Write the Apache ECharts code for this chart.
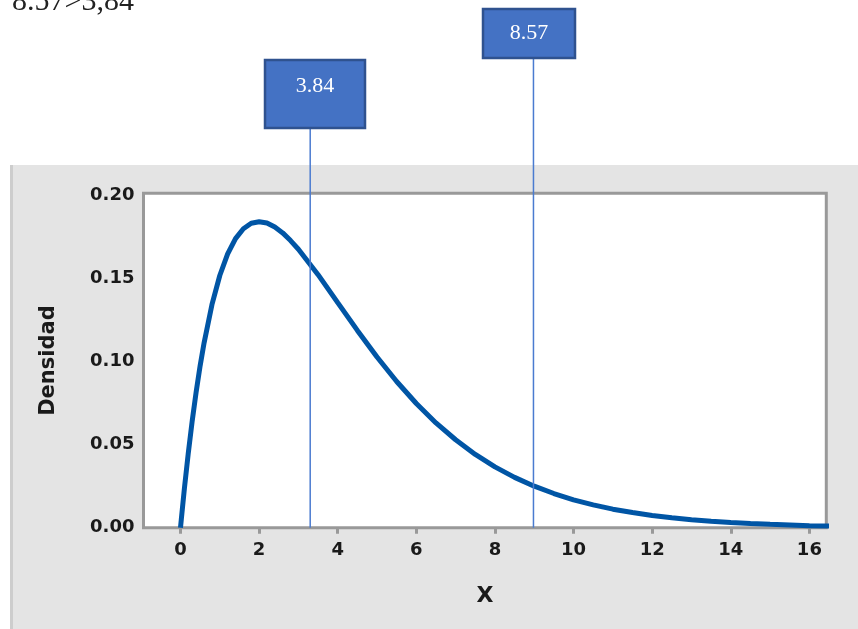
<!DOCTYPE html>
<html>
<head>
<meta charset="utf-8">
<script src="https://cdn.jsdelivr.net/npm/echarts@6/dist/echarts.min.js"></script>
<style>
html,body{margin:0;padding:0;background:#fff;}
#main{width:858px;height:629px;}
</style>
</head>
<body>
<div id="main"></div>
<script>
// Data
var xValues = [0, 0.02, 0.1, 0.2, 0.3, 0.4, 0.5, 0.6, 0.8, 1.0, 1.2, 1.4, 1.6, 1.8, 2.0, 2.2, 2.4, 2.6, 2.8, 3.0, 3.5, 4.0, 4.5, 5.0, 5.5, 6.0, 6.5, 7.0, 7.5, 8.0, 8.5, 9.0, 9.5, 10, 10.5, 11, 11.5, 12, 12.5, 13, 13.5, 14, 14.5, 15, 15.5, 16, 16.5];
var densityValues = [0, 0.0049, 0.0238, 0.0452, 0.0646, 0.0819, 0.0974, 0.1111, 0.1341, 0.1516, 0.1646, 0.1738, 0.1797, 0.1830, 0.1839, 0.1831, 0.1807, 0.1772, 0.1726, 0.1674, 0.1521, 0.1353, 0.1186, 0.1026, 0.0879, 0.0747, 0.0630, 0.0529, 0.0441, 0.0366, 0.0303, 0.0250, 0.0206, 0.0168, 0.0138, 0.0112, 0.0092, 0.0074, 0.0060, 0.0049, 0.0040, 0.0032, 0.0026, 0.0021, 0.0017, 0.0013, 0.0011];
var xTicks = [0, 2, 4, 6, 8, 10, 12, 14, 16];
var yTicks = [0, 0.05, 0.10, 0.15, 0.20];
var annotX = [3.30, 8.98];
var annotLabels = ['3.84', '8.57'];
var titleText = '8.57>3,84';
var xName = 'X';
var yName = 'Densidad';

var seriesData = xValues.map(function (x, i) { return [x, densityValues[i]]; });

var chart = echarts.init(document.getElementById('main'), null, {renderer: 'canvas'});

var labelFont = {color: '#1a1a1a', fontFamily: 'DejaVu Sans', fontWeight: 'bold', fontSize: 18};

var option = {
  animation: false,
  backgroundColor: '#ffffff',
  grid: {
    left: 143.5, top: 193.3, right: 31.7, bottom: 101.2,
    show: true, backgroundColor: '#ffffff', borderColor: '#999999', borderWidth: 3,
    containLabel: false
  },
  xAxis: {
    type: 'value', min: -0.941, max: 16.43,
    name: xName, nameLocation: 'middle', nameGap: 57,
    nameTextStyle: {color: '#1a1a1a', fontFamily: 'DejaVu Sans', fontWeight: 'bold', fontSize: 22},
    axisLine: {show: false},
    axisTick: {show: true, customValues: xTicks, length: 6, lineStyle: {color: '#999999', width: 3}},
    axisLabel: Object.assign({customValues: xTicks, margin: 14, formatter: function (v) { return String(v); }}, labelFont),
    splitLine: {show: false}
  },
  yAxis: {
    type: 'value', min: 0, max: 0.201,
    name: yName, nameLocation: 'middle', nameGap: 84, nameRotate: 90,
    nameTextStyle: {color: '#1a1a1a', fontFamily: 'DejaVu Sans', fontWeight: 'bold', fontSize: 21},
    axisLine: {show: false},
    axisTick: {show: false},
    axisLabel: Object.assign({customValues: yTicks, margin: 9, formatter: function (v) { return v.toFixed(2); }}, labelFont),
    splitLine: {show: false}
  },
  series: [{
    type: 'line',
    data: seriesData,
    showSymbol: false,
    smooth: false,
    clip: false,
    lineStyle: {color: '#0055a5', width: 5},
    z: 3
  }]
};
chart.setOption(option);

function buildGraphics() {
  var els = [];
  // gray panel behind plot
  els.push({type: 'rect', z: -10, silent: true, shape: {x: 10, y: 165, width: 848, height: 464}, style: {fill: '#e4e4e4'}});
  els.push({type: 'rect', z: -9, silent: true, shape: {x: 10, y: 165, width: 3, height: 464}, style: {fill: '#cdcdcd'}});
  // top caption
  els.push({type: 'text', z: 10, left: 12, top: -13, style: {text: titleText, fill: '#222', font: '30px "Liberation Serif"'}});
  var boxes = [
    {x: 265, y: 60, w: 100, h: 68, ty: 86},
    {x: 483, y: 9, w: 92, h: 49, ty: 33}
  ];
  annotX.forEach(function (xv, i) {
    var px = chart.convertToPixel({xAxisIndex: 0}, xv);
    var py0 = chart.convertToPixel({yAxisIndex: 0}, 0);
    var b = boxes[i];
    els.push({type: 'line', z: 5, silent: true, shape: {x1: px, y1: b.y + b.h, x2: px, y2: py0}, style: {stroke: '#4a7bd0', lineWidth: 1.5}});
    els.push({type: 'rect', z: 6, silent: true, shape: {x: b.x, y: b.y, width: b.w, height: b.h}, style: {fill: '#4472c4', stroke: '#2f528f', lineWidth: 2.5}});
    els.push({type: 'text', z: 7, silent: true, style: {x: b.x + b.w / 2, y: b.ty, text: annotLabels[i], fill: '#ffffff', font: '22px "Liberation Serif"', align: 'center', verticalAlign: 'middle'}});
  });
  return els;
}
chart.setOption({graphic: buildGraphics()});
</script>
</body>
</html>
